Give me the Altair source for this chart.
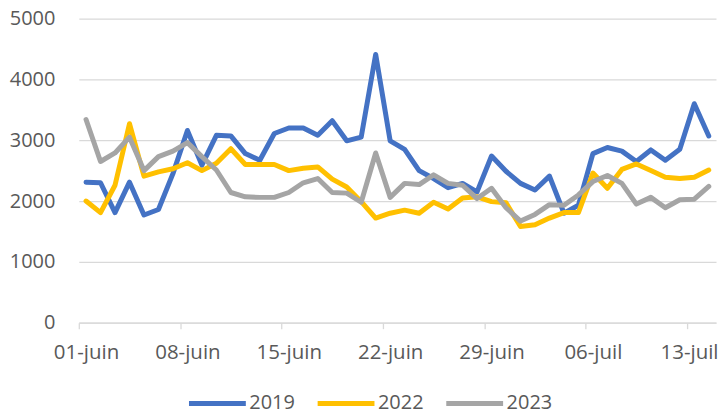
import altair as alt
import pandas as pd

dates = pd.date_range("2023-06-01 12:00", periods=44, freq="D").strftime("%Y-%m-%dT%H:%M:%S").tolist()
years = ["2019", "2022", "2023"]
colors = ["#4472C4", "#FFC000", "#A5A5A5"]

v2019 = [2310, 2300, 1810, 2310, 1770, 1860, 2450, 3160, 2590, 3080, 3070, 2780, 2670, 3110,
         3200, 3200, 3080, 3320, 2990, 3050, 4410, 2990, 2850, 2500, 2370, 2220, 2290, 2150,
         2740, 2490, 2290, 2180, 2410, 1800, 1930, 2780, 2880, 2820, 2650, 2840, 2670, 2850,
         3600, 3070]
v2022 = [2000, 1810, 2260, 3270, 2410, 2480, 2530, 2630, 2500, 2620, 2860, 2600, 2600, 2600,
         2500, 2540, 2560, 2360, 2230, 1990, 1720, 1800, 1850, 1800, 1980, 1870, 2050, 2070,
         1990, 1970, 1580, 1610, 1720, 1810, 1810, 2460, 2210, 2520, 2610, 2500, 2390, 2370,
         2390, 2510]
v2023 = [3340, 2650, 2790, 3050, 2500, 2730, 2820, 2960, 2730, 2510, 2140, 2070, 2060, 2060,
         2140, 2300, 2370, 2140, 2130, 1980, 2790, 2060, 2290, 2270, 2430, 2290, 2260, 2040,
         2210, 1890, 1670, 1780, 1940, 1930, 2100, 2320, 2420, 2290, 1950, 2060, 1890, 2020,
         2030, 2240]

rows = []
for y, vals in zip(years, [v2019, v2022, v2023]):
    for d, v in zip(dates, vals):
        rows.append({"date": d, "annee": y, "valeur": v})
df = pd.DataFrame(rows)

tick_days = [(6, 1), (6, 8), (6, 15), (6, 22), (6, 29), (7, 6), (7, 13)]
tick_vals = [alt.DateTime(year=2023, month=m, date=d) for m, d in tick_days]

TXT = "#595959"
GRID = "#D9D9D9"

chart = alt.Chart(df).mark_line(strokeWidth=5, strokeJoin="round", strokeCap="round").encode(
    x=alt.X(
        "date:T",
        title=None,
        scale=alt.Scale(domain=[alt.DateTime(year=2023, month=6, date=1),
                                alt.DateTime(year=2023, month=7, date=15)]),
        axis=alt.Axis(
            values=tick_vals,
            labelExpr="timeFormat(datum.value, '%d') + '-' + (month(datum.value) == 5 ? 'juin' : 'juil')",
            labelOffset={"condition": {"test": "month(datum.value) == 6 && date(datum.value) == 13",
                                       "value": 2},
                         "value": 7.26},
            labelFlush=False,
            labelOverlap=False,
            grid=False,
            domainColor=GRID,
            domainWidth=1.3,
            tickColor=GRID,
            tickWidth=1.3,
            tickSize=6,
            labelFont="Open Sans",
            labelFontSize=20.5,
            labelColor=TXT,
            labelPadding=14,
        ),
    ),
    y=alt.Y(
        "valeur:Q",
        title=None,
        scale=alt.Scale(domain=[0, 5000]),
        axis=alt.Axis(
            values=[0, 1000, 2000, 3000, 4000, 5000],
            format="d",
            domain=False,
            ticks=False,
            gridColor=GRID,
            gridWidth=1.3,
            labelFont="Open Sans",
            labelFontSize=20,
            labelColor=TXT,
            labelPadding=24,
        ),
    ),
    color=alt.Color(
        "annee:N",
        title=None,
        scale=alt.Scale(domain=years, range=colors),
        legend=alt.Legend(
            orient="none",
            direction="horizontal",
            legendX=108,
            legendY=355,
            symbolType="stroke",
            symbolSize=3249,
            symbolStrokeWidth=5,
            labelFont="Open Sans",
            labelFontSize=20,
            labelColor=TXT,
            labelOffset=1,
            columnPadding=12,
            padding=0,
        ),
    ),
).properties(
    width=639,
    height=305,
    padding={"left": 71, "top": 10, "right": 3, "bottom": 89},
    autosize=alt.AutoSizeParams(type="none"),
).configure_view(stroke=None)

chart.save("out.html", embed_options={"renderer": "svg", "actions": False})
